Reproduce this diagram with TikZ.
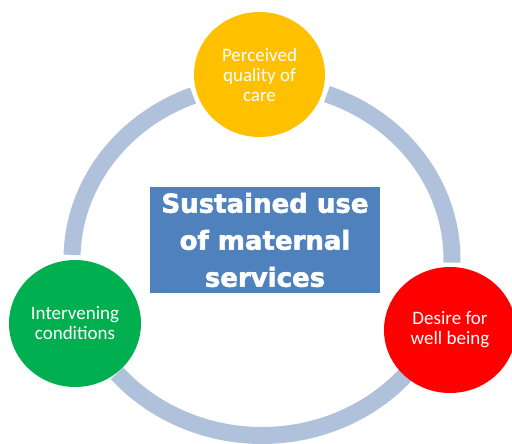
\documentclass[tikz,border=0pt]{standalone}
\usepackage{fontspec}
\usetikzlibrary{shapes.geometric}
\setmainfont{Carlito}
\newfontfamily\boxfont{DejaVu Sans}[BoldFont={DejaVu Sans Bold},BoldFeatures={FakeBold=2.2}]
\definecolor{ringc}{HTML}{B0C1DC}
\definecolor{boxc}{HTML}{4F81BD}
\definecolor{yel}{HTML}{FFC000}
\definecolor{grn}{HTML}{00B050}
\definecolor{rd}{HTML}{FF0000}
\begin{document}
\begin{tikzpicture}[x=1pt,y=1pt,
  ringarc/.style={draw=ringc,line width=17pt,line cap=butt},
  bubble/.style={ellipse,inner sep=0pt,text=white,align=center,
     font=\fontsize{19}{20}\selectfont},
  centerbox/.style={fill=boxc,minimum width=230pt,minimum height=106pt,
     text=white,align=center,inner sep=0pt,font=\boxfont\bfseries\fontsize{26}{37}\selectfont}
]
\useasboundingbox (0,0) rectangle (512,-444);
\fill[white] (0,0) rectangle (512,-444);
\coordinate (C) at (262,-259.5);
% ring arcs
\draw[ringarc] (C) ++(111.3:190 and 176) arc[start angle=111.3,end angle=178.5,x radius=190,y radius=176];
\draw[ringarc] (C) ++(70:190 and 176) arc[start angle=70,end angle=-1,x radius=190,y radius=176];
\draw[ringarc] (C) ++(220.3:190 and 176) arc[start angle=220.3,end angle=319,x radius=190,y radius=176];
% circles
\node (top) at (259.5,-74.5) [bubble,fill=yel,minimum width=131pt,minimum height=125pt] {Perceived\\quality of\\care};
\node (left) at (75,-323.5) [bubble,fill=grn,minimum width=132pt,minimum height=127pt] {Intervening\\conditions};
\node (right) at (450,-330) [bubble,fill=rd,minimum width=132pt,minimum height=126pt] {Desire for\\well being};
% center box
\node (box) at (265,-240) [centerbox] {Sustained use\\of maternal\\services};
\end{tikzpicture}
\end{document}
